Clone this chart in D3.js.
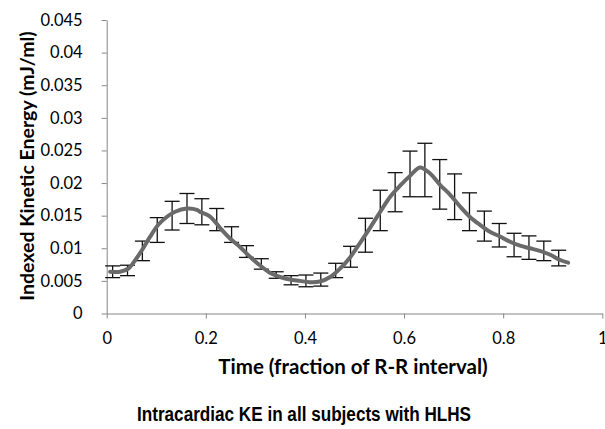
<!DOCTYPE html>
<html>
<head>
<meta charset="utf-8">
<script src="https://cdn.jsdelivr.net/npm/d3@7"></script>
<style>
  html, body { margin: 0; padding: 0; background: #fff; }
  svg { display: block; }
</style>
</head>
<body>
<svg id="chart" width="605" height="429"></svg>
<script>
// Sample times (fraction of R-R interval) for the mean ± SD markers
const sampleTime = [0.012, 0.042, 0.072, 0.102, 0.132, 0.162, 0.192, 0.222, 0.252, 0.282,
                    0.312, 0.342, 0.372, 0.402, 0.432, 0.462, 0.492, 0.522, 0.552, 0.582,
                    0.612, 0.642, 0.672, 0.702, 0.732, 0.762, 0.792, 0.822, 0.852, 0.882, 0.912];
// Mean indexed kinetic energy (mJ/ml) at each sample
const meanKE = [0.0064, 0.0066, 0.0096, 0.0128, 0.0150, 0.0161, 0.0156, 0.0144, 0.0121, 0.0095,
                0.0076, 0.0059, 0.0051, 0.0050, 0.0052, 0.0066, 0.0087, 0.0120, 0.0158, 0.0186,
                0.0214, 0.0220, 0.0198, 0.0179, 0.0156, 0.0134, 0.0120, 0.0105, 0.0101, 0.0096, 0.0085];
// Standard deviation at each sample
const sdKE = [0.0009, 0.0008, 0.0015, 0.0019, 0.0022, 0.0023, 0.0020, 0.0017, 0.0012, 0.0009,
              0.0008, 0.0005, 0.0007, 0.0009, 0.0010, 0.0011, 0.0016, 0.0026, 0.0031, 0.0030,
              0.0035, 0.0041, 0.0038, 0.0035, 0.0029, 0.0023, 0.0018, 0.0018, 0.0018, 0.0015, 0.0012];

// Smoothed KE curve over the cardiac cycle
const curveTime = [0.007, 0.027, 0.044, 0.054, 0.071, 0.087, 0.104, 0.121, 0.138, 0.161,
                   0.182, 0.188, 0.208, 0.229, 0.249, 0.269, 0.289, 0.309, 0.330, 0.350,
                   0.370, 0.390, 0.410, 0.430, 0.451, 0.471, 0.491, 0.511, 0.531, 0.552,
                   0.572, 0.592, 0.612, 0.632, 0.652, 0.673, 0.693, 0.713, 0.733, 0.753,
                   0.774, 0.794, 0.814, 0.834, 0.854, 0.874, 0.895, 0.915, 0.931];
const curveKE = [0.0064, 0.0064, 0.0069, 0.0078, 0.0097, 0.0117, 0.0136, 0.0148, 0.0156, 0.0161,
                 0.0159, 0.0156, 0.0149, 0.0131, 0.0115, 0.0102, 0.0087, 0.0074, 0.0062, 0.0056,
                 0.0052, 0.0050, 0.0048, 0.0049, 0.0056, 0.0069, 0.0086, 0.0108, 0.0131, 0.0156,
                 0.0179, 0.0196, 0.0211, 0.0224, 0.0215, 0.0197, 0.0182, 0.0164, 0.0148, 0.0136,
                 0.0125, 0.0118, 0.0110, 0.0104, 0.0100, 0.0096, 0.0090, 0.0082, 0.0078];

const yTicks = [0, 0.005, 0.01, 0.015, 0.02, 0.025, 0.03, 0.035, 0.04, 0.045];
const xTicks = [0, 0.2, 0.4, 0.6, 0.8, 1];

const yTitle = "Indexed Kinetic Energy (mJ/ml)";
const xTitle = "Time (fraction of R-R interval)";
const chartTitle = "Intracardiac KE in all subjects with HLHS";

const svg = d3.select("#chart");
const axisColor = "#868686";
const labelFont = "Lato, 'Open Sans', sans-serif";

const x = d3.scaleLinear().domain([0, 1]).range([106.7, 602.3]);
const y = d3.scaleLinear().domain([0, 0.045]).range([313.5, 20]);

// Y axis
const yAxis = svg.append("g")
  .attr("transform", `translate(${x(0)},0)`)
  .call(d3.axisLeft(y).tickValues(yTicks).tickSize(5).tickSizeOuter(0)
    .tickFormat(d => d === 0 ? "0" : String(+d.toFixed(3))));
yAxis.select(".domain").attr("stroke", axisColor);
yAxis.selectAll(".tick line").attr("stroke", axisColor);
yAxis.selectAll(".tick text")
  .attr("x", -24)
  .attr("font-family", labelFont).attr("font-size", 16.5).attr("fill", "#000");

// X axis
const xAxis = svg.append("g")
  .attr("transform", `translate(0,${y(0)})`)
  .call(d3.axisBottom(x).tickValues(xTicks).tickSize(5).tickSizeOuter(0)
    .tickFormat(d => String(d)));
xAxis.select(".domain").attr("stroke", axisColor);
xAxis.selectAll(".tick line").attr("stroke", axisColor);
xAxis.selectAll(".tick text")
  .attr("y", 19)
  .attr("font-family", labelFont).attr("font-size", 16.5).attr("fill", "#000");

// Error bars (mean ± SD)
const bars = svg.append("g").attr("stroke", "#111").attr("stroke-width", 1.3).attr("fill", "none");
const capHalf = 7.5;
sampleTime.forEach((t, i) => {
  const cx = x(t), top = y(meanKE[i] + sdKE[i]), bot = y(meanKE[i] - sdKE[i]);
  bars.append("line").attr("x1", cx).attr("x2", cx).attr("y1", top).attr("y2", bot);
  bars.append("line").attr("x1", cx - capHalf).attr("x2", cx + capHalf).attr("y1", top).attr("y2", top);
  bars.append("line").attr("x1", cx - capHalf).attr("x2", cx + capHalf).attr("y1", bot).attr("y2", bot);
});

// Smoothed mean curve
const line = d3.line()
  .x((d, i) => x(curveTime[i]))
  .y(d => y(d))
  .curve(d3.curveCatmullRom.alpha(0.5));
svg.append("path")
  .datum(curveKE)
  .attr("d", line)
  .attr("fill", "none")
  .attr("stroke", "#6a6a6a")
  .attr("stroke-width", 4)
  .attr("stroke-linecap", "round")
  .attr("stroke-linejoin", "round");

// Axis titles
svg.append("text")
  .attr("transform", `translate(34,166) rotate(-90)`)
  .attr("text-anchor", "middle")
  .attr("font-family", labelFont).attr("font-weight", "bold").attr("font-size", 19.5)
  .text(yTitle);

svg.append("text")
  .attr("x", 353).attr("y", 374)
  .attr("text-anchor", "middle")
  .attr("font-family", labelFont).attr("font-weight", "bold").attr("font-size", 20.5)
  .text(xTitle);

// Chart title
svg.append("text")
  .attr("x", 304).attr("y", 421)
  .attr("text-anchor", "middle")
  .attr("font-family", "'Liberation Sans', Arial, sans-serif").attr("font-weight", "bold").attr("font-size", 20)
  .attr("textLength", 334).attr("lengthAdjust", "spacingAndGlyphs")
  .text(chartTitle);
</script>
</body>
</html>
